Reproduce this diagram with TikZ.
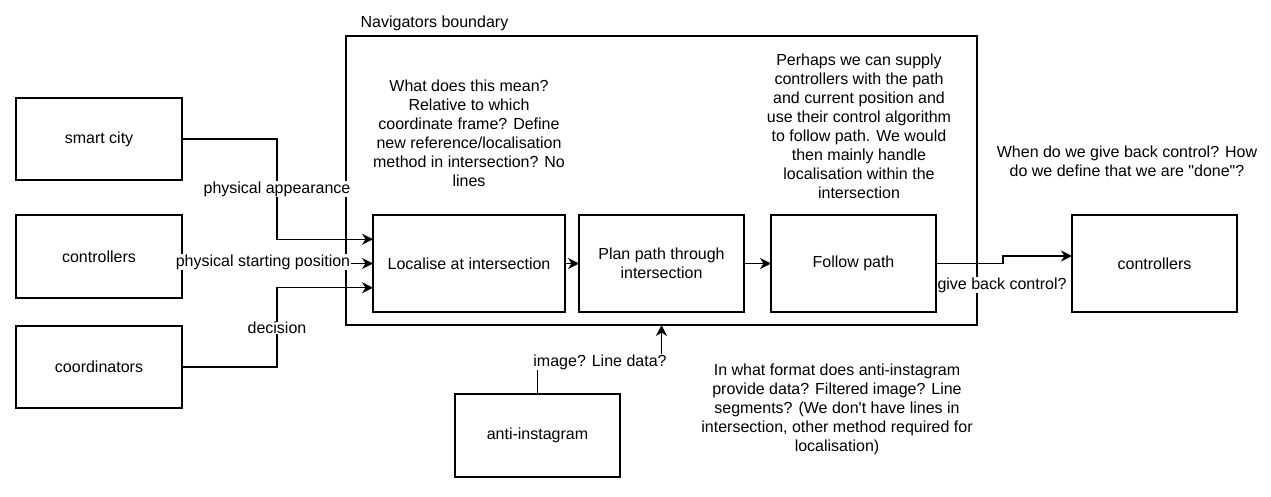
\documentclass[tikz,border=0pt]{standalone}
\usepackage{fontspec}
\newfontfamily\dfont{Liberation Sans}
\usetikzlibrary{arrows.meta,calc}
\begin{document}
\begin{tikzpicture}[x=1pt,y=-1pt,
  font=\dfont\fontsize{16}{19}\selectfont,
  line width=1.3pt,
  box/.style={draw, rectangle, inner sep=0pt, outer sep=0pt, align=center},
  arr/.style={-{Stealth[length=11pt,width=11pt,inset=3.5pt]}},
  lbl/.style={fill=white, inner sep=0.5pt},
  note/.style={align=center, inner sep=0pt}]
\useasboundingbox (0,0) rectangle (1271,497);

% boundary
\node[box, minimum width=631pt, minimum height=289pt] (bnd) at (661.5,180.5) {};
\node[anchor=west, inner sep=0pt] (bndlbl) at (360,23) {Navigators boundary};

% left boxes
\node[box, minimum width=166pt, minimum height=82pt] (sc) at (99,139) {smart city};
\node[box, minimum width=166pt, minimum height=83pt] (ctrlL) at (99,256.5) {controllers};
\node[box, minimum width=166pt, minimum height=82pt] (coord) at (99,367) {coordinators};

% inner boxes
\node[box, minimum width=192pt, minimum height=97pt] (loc) at (469,263.5) {Localise at intersection};
\node[box, minimum width=165pt, minimum height=97pt] (plan) at (661.5,263.5) {Plan path through\\intersection};
\node[box, minimum width=165pt, minimum height=97pt] (follow) at (853.5,263.5) {Follow path};

% right / bottom boxes
\node[box, minimum width=165pt, minimum height=97pt] (ctrlR) at (1154.5,263.5) {controllers};
\node[box, minimum width=165pt, minimum height=83pt] (anti) at (537.5,435.5) {anti-instagram};

% connector anchors
\coordinate (locA) at ($(loc.north west)!0.25!(loc.south west)$);
\coordinate (locC) at ($(loc.north west)!0.75!(loc.south west)$);

% connectors
\draw[arr] (sc.east) -- (277,139) |- (locA);
\draw[arr] (ctrlL.east |- loc.west) -- (loc.west);
\draw[arr] (coord.east) -- (277,367) |- (locC);
\draw[arr] (loc.east) -- (plan.west);
\draw[arr] (plan.east) -- (follow.west);
\draw[arr] (follow.east) -- (1003,263.5) -- (1003,256) -- (ctrlR.west |- 0,256);
\draw[arr] (anti.north) -- (537.5,360) -| (bnd.south);

% edge labels
\node[lbl] (l1) at (277,189) {physical appearance};
\node[lbl] (l2) at (263,262) {physical starting position};
\node[lbl] (l3) at (277,328) {decision};
\node[lbl] (l4) at (1002,285) {give back control?};
\node[lbl] (l5) at (600,362) {image? Line data?};

% notes
\node[note] (n1) at (469,133.5) {What does this mean?\\Relative to which\\coordinate frame? Define\\new reference/localisation\\method in intersection? No\\lines};
\node[note] (n2) at (859,126) {Perhaps we can supply\\controllers with the path\\and current position and\\use their control algorithm\\to follow path. We would\\then mainly handle\\localisation within the\\intersection};
\node[note] (n3) at (1127,161) {When do we give back control? How\\do we define that we are "done"?};
\node[note] (n4) at (837,409) {In what format does anti-instagram\\provide data? Filtered image? Line\\segments? (We don't have lines in\\intersection, other method required for\\localisation)};
\end{tikzpicture}
\end{document}
